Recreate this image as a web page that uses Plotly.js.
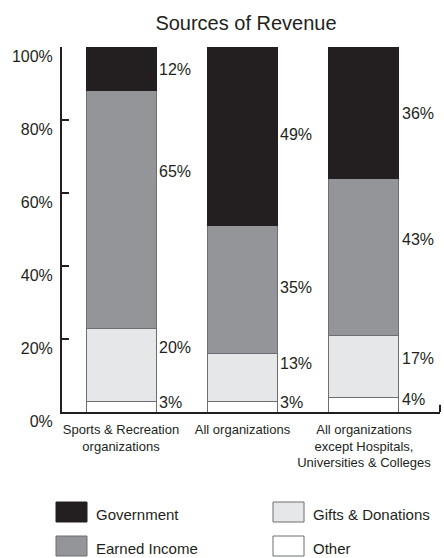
<!DOCTYPE html>
<html>
<head>
<meta charset="utf-8">
<script src="https://cdn.plot.ly/plotly-3.0.1.min.js"></script>
<style>html,body{margin:0;padding:0;background:#fff;}#chart{width:444px;height:558px;}</style>
</head>
<body>
<div id="chart"></div>
<script>
// ---- data ----
const categories = ["Sports & Recreation<br>organizations", "All organizations", "All organizations<br>except Hospitals,<br>Universities & Colleges"];
const other = [3, 3, 4];
const gifts = [20, 13, 17];
const earned = [65, 35, 43];
const government = [12, 49, 36];
const seriesNames = ["Other", "Gifts & Donations", "Earned Income", "Government"];
const yTickVals = [0, 20, 40, 60, 80, 100];
const yTickText = ["0%", "20%", "40%", "60%", "80%", "100%"];

// ---- style ----
const FONT = "Liberation Sans, Arial, Helvetica, sans-serif";
const INK = "#231f20";
const colors = ["#ffffff", "#e6e7e8", "#939598", "#231f20"];
const edge = "#6d6e71";
const barWidth = 0.576;
// small pixel nudges for the value labels (per series, per bar)
const labelNudge = [[4, 4, 5], [17, 14, 8], [38, 2, 17], [-1, 2, -1]];

const W = 444, H = 558, ML = 62, MR = 4, MT = 47, MB = 146;
const pxX = p => (p - ML) / (W - ML - MR);
const pxY = p => (H - MB - p) / (H - MT - MB);

const series = [other, gifts, earned, government];
const traces = series.map((vals, s) => ({
  type: "bar",
  name: seriesNames[s],
  x: categories,
  y: vals,
  width: barWidth,
  marker: {color: colors[s], line: {color: s === 3 ? INK : edge, width: 1}},
  hoverinfo: "skip",
  showlegend: false
}));

const annotations = [];
categories.forEach((c, i) => {
  let base = 0;
  series.forEach((vals, s) => {
    const v = vals[i];
    annotations.push({
      x: i + barWidth / 2, y: base + v / 2, xref: "x", yref: "y",
      xanchor: "left", yanchor: "middle", xshift: 1, yshift: labelNudge[s][i],
      text: v + "%", showarrow: false,
      font: {family: FONT, size: 16, color: INK}
    });
    base += v;
  });
});

// custom legend
const legendItems = [
  {name: "Government", color: colors[3], line: INK, x: 56, y: 502},
  {name: "Earned Income", color: colors[2], line: edge, x: 56, y: 536},
  {name: "Gifts & Donations", color: colors[1], line: edge, x: 273, y: 502},
  {name: "Other", color: colors[0], line: edge, x: 273, y: 536}
];
const shapes = [
  // small end tick at right of x axis
  {type: "line", xref: "paper", yref: "y", x0: 1, x1: 1, y0: 0, y1: 2, line: {color: INK, width: 2}}
];
legendItems.forEach(it => {
  shapes.push({type: "rect", xref: "paper", yref: "paper",
    x0: pxX(it.x), x1: pxX(it.x + 31), y0: pxY(it.y + 20), y1: pxY(it.y),
    fillcolor: it.color, line: {color: it.line, width: 1}});
  annotations.push({xref: "paper", yref: "paper", x: pxX(it.x + 38), y: pxY(it.y + 12),
    xanchor: "left", yanchor: "middle", text: it.name, showarrow: false,
    font: {family: FONT, size: 15, color: INK}});
});

const layout = {
  width: W, height: H,
  margin: {l: ML, r: MR, t: MT, b: MB},
  paper_bgcolor: "#fff", plot_bgcolor: "#fff",
  barmode: "stack",
  bargap: 0,
  title: {text: "Sources of Revenue", font: {family: FONT, size: 20, color: INK},
    x: pxX(246), xref: "paper", xanchor: "center", y: 1 - 23 / H, yanchor: "middle"},
  xaxis: {
    type: "category", range: [-0.486, 2.626], fixedrange: true,
    showline: true, linecolor: INK, linewidth: 2,
    ticks: "", showgrid: false, zeroline: false,
    ticklabelstandoff: 4,
    tickfont: {family: FONT, size: 13, color: INK}
  },
  yaxis: {
    range: [0, 100], fixedrange: true,
    showline: true, linecolor: INK, linewidth: 2,
    ticks: "inside", ticklen: 7, tickwidth: 2, tickcolor: INK,
    tickvals: yTickVals, ticktext: yTickText,
    ticklabelshift: 9, ticklabelstandoff: 4,
    showgrid: false, zeroline: false,
    tickfont: {family: FONT, size: 16, color: INK}
  },
  annotations: annotations,
  shapes: shapes,
  showlegend: false
};

Plotly.newPlot("chart", traces, layout, {displayModeBar: false, staticPlot: true});
</script>
</body>
</html>
